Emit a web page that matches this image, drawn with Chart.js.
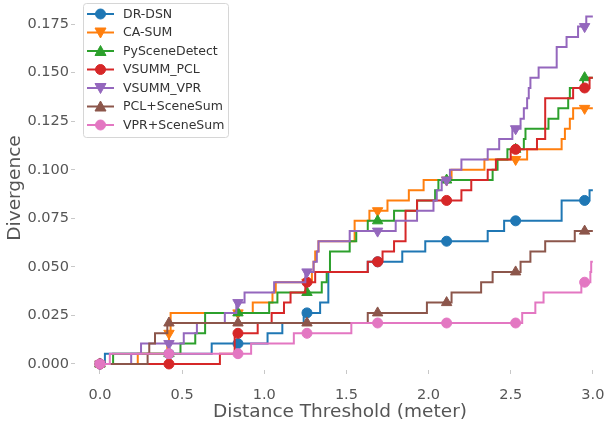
<!DOCTYPE html>
<html>
<head>
<meta charset="utf-8">
<script src="https://cdn.jsdelivr.net/npm/chart.js"></script>
<style>
  body { margin: 0; background: #fff; }
</style>
</head>
<body>
<canvas id="divChart" width="605" height="427"></canvas>
<script>
// x positions where markers sit (every 42nd sample)
const markerX = [0, 0.42, 0.84, 1.26, 1.69, 2.11, 2.53, 2.95];
const xTicks = [0, 0.5, 1.0, 1.5, 2.0, 2.5, 3.0];
const yTicks = [0, 0.025, 0.05, 0.075, 0.1, 0.125, 0.15, 0.175];

// step change points: x where the curve jumps, y = new value
const drdsnX = [0, 0.03, 0.68, 1.02, 1.11, 1.24, 1.34, 1.39, 1.63, 1.84, 1.98, 2.36, 2.46, 2.81, 2.98, 3.0];
const drdsnY = [0, 0.0053, 0.0105, 0.0158, 0.0211, 0.0263, 0.0316, 0.0474, 0.0526, 0.0579, 0.0632, 0.0684, 0.0737, 0.0842, 0.0895, 0.0895];

const casumX = [0, 0.23, 0.41, 0.42, 0.43, 0.93, 1.05, 1.07, 1.29, 1.30, 1.31, 1.33, 1.55, 1.64, 1.75, 1.88, 1.97, 2.14, 2.34, 2.60, 2.81, 2.83, 2.86, 2.88, 3.0];
const casumY = [0, 0.0053, 0.0105, 0.0158, 0.0263, 0.0316, 0.0368, 0.0421, 0.0474, 0.0526, 0.0579, 0.0632, 0.0737, 0.0789, 0.0842, 0.0895, 0.0947, 0.1000, 0.1053, 0.1105, 0.1158, 0.1211, 0.1263, 0.1316, 0.1316];

const pysceneX = [0, 0.08, 0.49, 0.58, 0.64, 1.03, 1.08, 1.35, 1.38, 1.40, 1.52, 1.56, 1.63, 1.79, 1.93, 2.04, 2.06, 2.39, 2.42, 2.48, 2.58, 2.59, 2.73, 2.79, 2.85, 2.86, 2.94, 3.0];
const pysceneY = [0, 0.0053, 0.0105, 0.0158, 0.0263, 0.0316, 0.0368, 0.0421, 0.0474, 0.0579, 0.0632, 0.0684, 0.0737, 0.0789, 0.0842, 0.0895, 0.0947, 0.1000, 0.1053, 0.1105, 0.1158, 0.1211, 0.1263, 0.1316, 0.1368, 0.1421, 0.1474, 0.1474];

const pclX = [0, 0.73, 0.82, 0.96, 1.045, 1.12, 1.16, 1.25, 1.31, 1.63, 1.72, 1.79, 1.86, 1.93, 2.20, 2.26, 2.36, 2.41, 2.50, 2.66, 2.71, 2.88, 2.98, 3.0];
const pclY = [0, 0.0053, 0.0158, 0.0211, 0.0263, 0.0316, 0.0368, 0.0421, 0.0474, 0.0526, 0.0579, 0.0632, 0.0789, 0.0842, 0.0895, 0.0947, 0.1000, 0.1053, 0.1105, 0.1158, 0.1368, 0.1421, 0.1474, 0.1474];

const vprX = [0, 0.19, 0.25, 0.51, 0.59, 0.76, 0.83, 0.88, 1.06, 1.25, 1.30, 1.32, 1.33, 1.52, 1.80, 1.93, 2.03, 2.05, 2.08, 2.13, 2.20, 2.36, 2.43, 2.51, 2.56, 2.58, 2.60, 2.61, 2.62, 2.67, 2.78, 2.84, 2.91, 2.96, 3.0];
const vprY = [0, 0.0053, 0.0105, 0.0158, 0.0211, 0.0263, 0.0316, 0.0368, 0.0421, 0.0474, 0.0526, 0.0579, 0.0632, 0.0684, 0.0737, 0.0789, 0.0842, 0.0895, 0.0947, 0.1000, 0.1053, 0.1105, 0.1158, 0.1211, 0.1263, 0.1316, 0.1368, 0.1421, 0.1474, 0.1526, 0.1632, 0.1684, 0.1737, 0.1789, 0.1789];

const pclSceneX = [0, 0.29, 0.30, 0.335, 0.41, 1.63, 1.99, 2.14, 2.32, 2.39, 2.56, 2.62, 2.71, 2.89, 3.0];
const pclSceneY = [0, 0.0053, 0.0105, 0.0158, 0.0211, 0.0263, 0.0316, 0.0368, 0.0421, 0.0474, 0.0526, 0.0579, 0.0632, 0.0684, 0.0684];

const vprSceneX = [0, 0.06, 0.92, 1.18, 1.53, 2.57, 2.65, 2.70, 2.93, 2.985, 2.99, 3.0];
const vprSceneY = [0, 0.0053, 0.0105, 0.0158, 0.0211, 0.0263, 0.0316, 0.0368, 0.0421, 0.0474, 0.0526, 0.0526];

const labels = ['DR-DSN', 'CA-SUM', 'PySceneDetect', 'VSUMM_PCL', 'VSUMM_VPR', 'PCL+SceneSum', 'VPR+SceneSum'];
const colors = ['#1f77b4', '#ff7f0e', '#2ca02c', '#d62728', '#9467bd', '#8c564b', '#e377c2'];
const markers = ['circle', 'down', 'up', 'circle', 'down', 'up', 'circle'];
const seriesX = [drdsnX, casumX, pysceneX, pclX, vprX, pclSceneX, vprSceneX];
const seriesY = [drdsnY, casumY, pysceneY, pclY, vprY, pclSceneY, vprSceneY];

const textColor = '#555';

// merge change points with the marker positions (marker y)
function buildPoints(xs, ys) {
    const pts = xs.map((x, i) => ({ x: x, y: ys[i], m: false }));
    markerX.forEach(mx => {
        let y = ys[0];
        for (let i = 0; i < xs.length; i++) {
            if (xs[i] <= mx) y = ys[i];
        }
        pts.push({ x: mx, y: y, m: true });
    });
    pts.sort((a, b) => (a.x - b.x) || (a.m - b.m));
    return pts;
}

function drawMarker(c, kind, x, y, color) {
    c.fillStyle = color;
    c.strokeStyle = color;
    c.lineWidth = 1;
    c.beginPath();
    if (kind === 'circle') {
        c.arc(x, y, 5, 0, Math.PI * 2);
    } else {
        const s = kind === 'up' ? 1 : -1;
        c.moveTo(x, y - 5.5 * s);
        c.lineTo(x + 5.5, y + 4.5 * s);
        c.lineTo(x - 5.5, y + 4.5 * s);
        c.closePath();
    }
    c.fill();
    c.stroke();
}

const legendBox = {
    id: 'legendBox',
    afterDatasetsDraw(chart) {
        const c = chart.ctx;
        c.save();
        const bx = 83.5, by = 3.5, bw = 145, bh = 134, r = 3;
        c.beginPath();
        c.moveTo(bx + r, by);
        c.arcTo(bx + bw, by, bx + bw, by + bh, r);
        c.arcTo(bx + bw, by + bh, bx, by + bh, r);
        c.arcTo(bx, by + bh, bx, by, r);
        c.arcTo(bx, by, bx + bw, by, r);
        c.closePath();
        c.fillStyle = 'rgba(255,255,255,0.8)';
        c.fill();
        c.strokeStyle = '#d6d6d6';
        c.lineWidth = 1;
        c.stroke();

        labels.forEach((lab, i) => {
            const y = 14 + i * 18.5;
            c.strokeStyle = colors[i];
            c.lineWidth = 2;
            c.beginPath();
            c.moveTo(87, y);
            c.lineTo(114, y);
            c.stroke();
            drawMarker(c, markers[i], 100.5, y, colors[i]);
            c.fillStyle = '#333';
            c.font = '12.5px "DejaVu Sans"';
            c.textBaseline = 'middle';
            c.textAlign = 'left';
            c.fillText(lab, 123, y + 0.5);
        });
        c.restore();
    }
};

const datasets = labels.map((lab, i) => ({
    label: lab,
    data: buildPoints(seriesX[i], seriesY[i]),
    borderColor: colors[i],
    backgroundColor: colors[i],
    borderWidth: 2,
    stepped: true,
    fill: false,
    order: labels.length - i,
    pointStyle: markers[i] === 'circle' ? 'circle' : 'triangle',
    rotation: markers[i] === 'down' ? 180 : 0,
    pointBackgroundColor: colors[i],
    pointBorderColor: colors[i],
    pointBorderWidth: 1,
    pointRadius: ctx => (ctx.raw && ctx.raw.m) ? (markers[i] === 'circle' ? 5 : 6) : 0,
    pointHoverRadius: 0
}));

const ctx = document.getElementById('divChart').getContext('2d');
const divChart = new Chart(ctx, {
    type: 'line',
    data: { datasets: datasets },
    plugins: [legendBox],
    options: {
        responsive: false,
        animation: false,
        devicePixelRatio: 1,
        layout: { padding: { top: 6, right: 0, left: 0, bottom: 0 } },
        plugins: {
            legend: { display: false },
            tooltip: { enabled: false }
        },
        scales: {
            x: {
                type: 'linear',
                min: -0.152,
                max: 3.074,
                afterBuildTicks: s => { s.ticks = xTicks.map(v => ({ value: v })); },
                afterFit: s => { s.height = 57; s.paddingLeft = 0; s.paddingRight = 0; },
                ticks: {
                    color: textColor,
                    font: { family: 'DejaVu Sans', size: 14.5 },
                    padding: 13,
                    maxRotation: 0,
                    callback: v => Number(v).toFixed(1)
                },
                grid: { drawOnChartArea: false, drawTicks: true, tickLength: 4, tickColor: '#c8c8c8' },
                border: { display: false },
                title: {
                    display: true,
                    text: 'Distance Threshold (meter)',
                    color: textColor,
                    font: { family: 'DejaVu Sans', size: 18.5 }
                }
            },
            y: {
                type: 'linear',
                min: -0.0031,
                max: 0.1843,
                afterBuildTicks: s => { s.ticks = yTicks.map(v => ({ value: v })); },
                afterFit: s => { s.width = 75; s.paddingTop = 0; s.paddingBottom = 0; },
                ticks: {
                    color: textColor,
                    font: { family: 'DejaVu Sans', size: 14.5 },
                    padding: 2,
                    callback: v => Number(v).toFixed(3)
                },
                grid: { drawOnChartArea: false, drawTicks: true, tickLength: 4, tickColor: '#c8c8c8' },
                border: { display: false },
                title: {
                    display: true,
                    text: 'Divergence',
                    color: textColor,
                    font: { family: 'DejaVu Sans', size: 18.5 }
                }
            }
        }
    }
});
</script>
</body>
</html>
